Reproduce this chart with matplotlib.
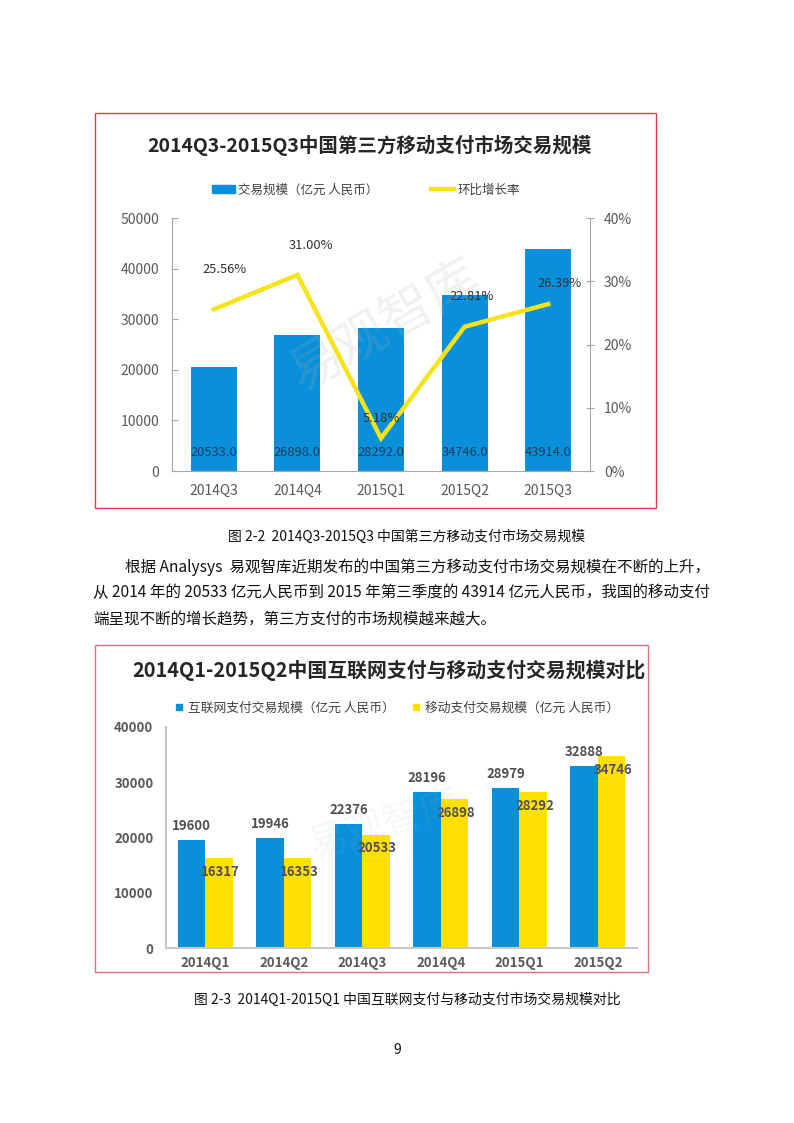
import numpy as np
import matplotlib.pyplot as plt
from matplotlib.patches import Rectangle, Patch
from matplotlib.lines import Line2D

plt.rcParams['font.family'] = ['Noto Sans CJK SC', 'DejaVu Sans']

W, H = 794, 1123

# chart 1: 第三方移动支付市场交易规模
quarters1 = ["2014Q3", "2014Q4", "2015Q1", "2015Q2", "2015Q3"]
volume1 = [20533.0, 26898.0, 28292.0, 34746.0, 43914.0]
growth1 = [25.56, 31.00, 5.18, 22.81, 26.39]

# chart 2: 互联网支付 vs 移动支付
quarters2 = ["2014Q1", "2014Q2", "2014Q3", "2014Q4", "2015Q1", "2015Q2"]
internet2 = [19600, 19946, 22376, 28196, 28979, 32888]
mobile2 = [16317, 16353, 20533, 26898, 28292, 34746]

BLUE = "#0A90DA"
YELLOW = "#FFE000"
LINE_YELLOW = "#F8E21A"
GRAY = "#595959"


def rect(x0, y0, x1, y1):
    return [x0 / W, 1 - y1 / H, (x1 - x0) / W, (y1 - y0) / H]


def ftext(x, y, s, **kw):
    fig.text(x / W, 1 - y / H, s, **kw)


fig = plt.figure(figsize=(W / 100, H / 100), dpi=100)

# red frames round the two pictures
fig.patches.append(Rectangle((95 / W, 1 - 508 / H), 561 / W, 395 / H, fill=False,
                             ec="#D8404A", lw=1.0, transform=fig.transFigure))
fig.patches.append(Rectangle((95 / W, 1 - 972 / H), 553 / W, 327 / H, fill=False,
                             ec="#E07080", lw=1.0, transform=fig.transFigure))

# ---------------- chart 1 ----------------
ax = fig.add_axes(rect(172, 218, 590, 471))
x = np.arange(len(quarters1))
ax.bar(x, volume1, width=0.55, color=BLUE, zorder=2)
ax.set_xlim(-0.5, len(quarters1) - 0.5)
ax.set_ylim(0, 50000)
ax.set_yticks(np.arange(0, 50001, 10000))
ax.set_xticks(x)
ax.set_xticklabels(quarters1)
for s in ["top", "right"]:
    ax.spines[s].set_visible(False)
for s in ["left", "bottom"]:
    ax.spines[s].set_color("#A6A6A6")
ax.tick_params(axis="y", direction="in", length=4, color="#A6A6A6", pad=9,
               labelsize=10, labelcolor=GRAY)
ax.tick_params(axis="x", length=0, pad=9, labelsize=10, labelcolor=GRAY)
for i, v in enumerate(volume1):
    ax.annotate(f"{v:.1f}", (i, 0), xytext=(0, 13), textcoords="offset points",
                ha="center", va="center", fontsize=9.3, color="#1F3A5A", zorder=4)

ax2 = ax.twinx()
ax2.plot(x, growth1, color=LINE_YELLOW, lw=3.2, solid_joinstyle="miter", zorder=3)
ax2.set_ylim(0, 40)
ax2.set_yticks(np.arange(0, 41, 10))
ax2.set_yticklabels([f"{t}%" for t in range(0, 41, 10)])
for s in ["top", "left", "bottom"]:
    ax2.spines[s].set_visible(False)
ax2.spines["right"].set_color("#A6A6A6")
ax2.tick_params(axis="y", direction="inout", length=6, color="#A6A6A6", pad=7,
                labelsize=10, labelcolor=GRAY)
pct_offsets = [(8, 29), (10, 21), (0, 14), (5, 22), (8, 15)]
for i, g in enumerate(growth1):
    ax2.annotate(f"{g:.2f}%", (i, g), xytext=pct_offsets[i], textcoords="offset points",
                 ha="center", va="center", fontsize=9.3, color="#303030")

ftext(369, 145, "2014Q3-2015Q3中国第三方移动支付市场交易规模", ha="center", va="center",
      fontsize=14, fontweight="bold", color="#262626")
fig.legend(handles=[Patch(color=BLUE, label="交易规模（亿元 人民币）"),
                    Line2D([], [], color=LINE_YELLOW, lw=3.2, label="环比增长率")],
           loc="center", bbox_to_anchor=(366 / W, 1 - 190 / H), ncol=2, frameon=False,
           fontsize=9, handlelength=1.8, handleheight=0.6, handletextpad=0.3,
           columnspacing=4.2, labelcolor="#404040")

# watermark
ftext(385, 325, "易观智库", ha="center", va="center", rotation=30, fontsize=38,
      color="#B0B0B0", alpha=0.18, zorder=10)

# ---------------- page text ----------------
body = dict(fontsize=11.2, color="#111111", va="center", ha="left")
ftext(407, 537, "图 2-2  2014Q3-2015Q3 中国第三方移动支付市场交易规模", ha="center",
      va="center", fontsize=10, color="#111111")
ftext(125, 567, "根据 Analysys  易观智库近期发布的中国第三方移动支付市场交易规模在不断的上升，", **body)
ftext(93, 593, "从 2014 年的 20533 亿元人民币到 2015 年第三季度的 43914 亿元人民币，我国的移动支付", **body)
ftext(93, 620, "端呈现不断的增长趋势，第三方支付的市场规模越来越大。", **body)
ftext(407, 1000, "图 2-3  2014Q1-2015Q1 中国互联网支付与移动支付市场交易规模对比", ha="center",
      va="center", fontsize=10, color="#111111")
ftext(397, 1050, "9", ha="center", va="center", fontsize=10, color="#111111")

# ---------------- chart 2 ----------------
bx = fig.add_axes(rect(166, 727, 637, 948))
x2 = np.arange(len(quarters2))
bw = 0.35
bx.bar(x2 - bw / 2, internet2, width=bw, color=BLUE, zorder=2)
bx.bar(x2 + bw / 2, mobile2, width=bw, color=YELLOW, zorder=2)
bx.set_xlim(-0.5, len(quarters2) - 0.5)
bx.set_ylim(0, 40000)
bx.set_yticks(np.arange(0, 40001, 10000))
bx.set_xticks(x2)
bx.set_xticklabels(quarters2, fontweight="bold")
for s in ["top", "right"]:
    bx.spines[s].set_visible(False)
for s in ["left", "bottom"]:
    bx.spines[s].set_color("#C8C8C8")
    bx.spines[s].set_linewidth(1.5)
bx.tick_params(axis="y", length=0, pad=9, labelsize=9.5, labelcolor=GRAY)
bx.tick_params(axis="x", length=0, pad=6, labelsize=9.5, labelcolor=GRAY)
for lab in bx.get_yticklabels():
    lab.set_fontweight("bold")
for i, v in enumerate(internet2):
    bx.annotate(f"{v}", (i - bw / 2, v), xytext=(0, 10), textcoords="offset points",
                ha="center", va="center", fontsize=9.5, fontweight="bold", color="#505050")
for i, v in enumerate(mobile2):
    bx.annotate(f"{v}", (i + bw / 2, v), xytext=(1, -10), textcoords="offset points",
                ha="center", va="center", fontsize=9.5, fontweight="bold", color="#505050")

ftext(132, 670, "2014Q1-2015Q2中国互联网支付与移动支付交易规模对比", ha="left", va="center",
      fontsize=14.3, fontweight="bold", color="#262626")
fig.legend(handles=[Line2D([], [], ls="none", marker="s", ms=5, color=BLUE,
                           label="互联网支付交易规模（亿元 人民币）"),
                    Line2D([], [], ls="none", marker="s", ms=5, color=YELLOW,
                           label="移动支付交易规模（亿元 人民币）")],
           loc="center", bbox_to_anchor=(397 / W, 1 - 708 / H), ncol=2, frameon=False,
           fontsize=9.2, handlelength=0.6, handletextpad=0.4, columnspacing=1.4,
           labelcolor="#404040")
ftext(385, 825, "易观智库", ha="center", va="center", rotation=17, fontsize=28,
      color="#B0B0B0", alpha=0.1, zorder=10)

fig.savefig("out.png", dpi=100)
